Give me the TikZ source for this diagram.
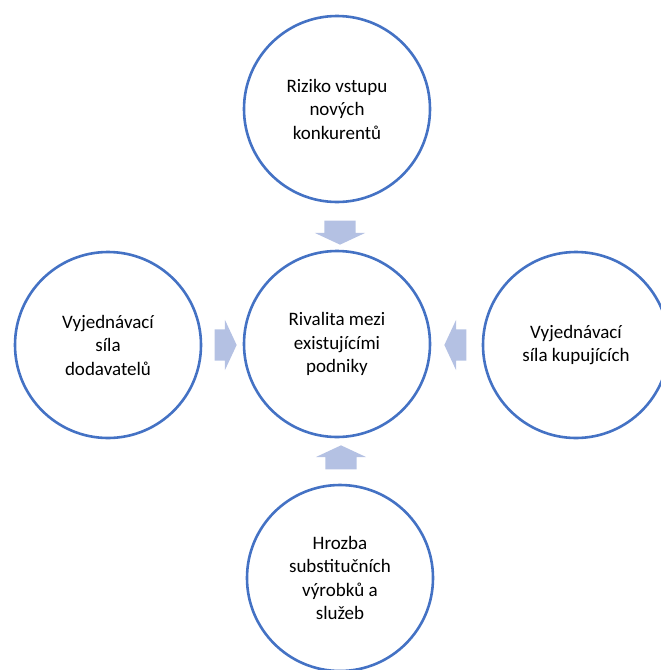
\documentclass[tikz,border=0pt]{standalone}
\usepackage{fontspec}
\setmainfont{Carlito}
\usetikzlibrary{shapes.arrows}
\definecolor{ringblue}{HTML}{4472C4}
\definecolor{arrowblue}{HTML}{B4C1E3}

\begin{document}
\begin{tikzpicture}[x=1pt, y=-1pt,
	force/.style = {draw=ringblue, line width=2.6pt, circle, minimum size=186pt, inner sep=0pt, align=center, font=\fontsize{19}{23.5}\selectfont},
	push/.style = {single arrow, fill=arrowblue, draw=none, inner xsep=0pt, inner ysep=15.5pt, minimum height=24pt, single arrow head extend=9.5pt, single arrow tip angle=130}]
	\useasboundingbox (0,0) rectangle (661,670);
	\node[force] (entry) at (337,109) {Riziko vstupu\\nových\\konkurentů};
	\node[force] (rivalry) at (337,344) {Rivalita mezi\\existujícími\\podniky};
	\node[force] (suppliers) at (108,345) {Vyjednávací\\síla\\dodavatelů};
	\node[force] (buyers) at (576,345) {Vyjednávací\\síla kupujících};
	\node[force] (substitutes) at (340,578) {Hrozba\\substitučních\\výrobků a\\služeb};
	\node[push, rotate=-90] (a1) at (340,229) {};
	\node[push, rotate=90] (a2) at (341,461) {};
	\node[push, minimum height=22pt] (a3) at (222,345) {};
	\node[push, minimum height=22pt, rotate=180] (a4) at (459,345) {};
\end{tikzpicture}
\end{document}
